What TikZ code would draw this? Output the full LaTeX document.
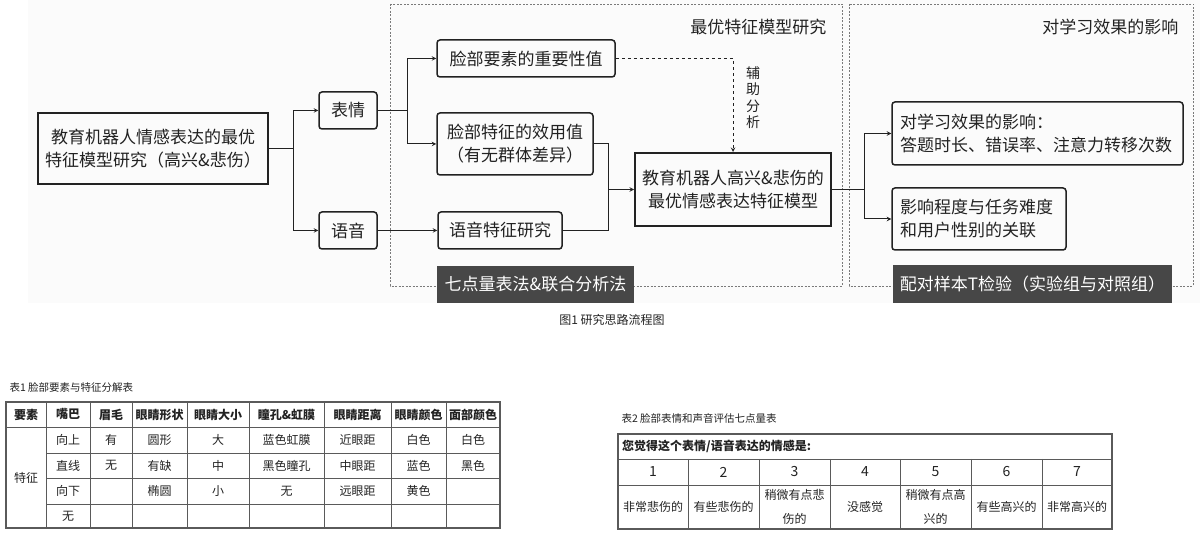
\documentclass[tikz,border=0pt]{standalone}
\usepackage{fontspec}
\setmainfont{Noto Sans CJK SC}
\usepackage{xcolor}
\definecolor{customcolor1}{HTML}{222222}
\definecolor{customcolor2}{HTML}{474747}
\definecolor{customcolor3}{HTML}{7a7a7a}
\definecolor{customcolor4}{HTML}{fbfbfb}
\definecolor{customcolor5}{HTML}{5a5a5a}

\newcommand{\boxfont}{\fontsize{17}{23}\selectfont}
\newcommand{\tabfont}{\fontsize{12}{24}\selectfont}
\newcommand{\capfont}{\fontsize{10.5}{12}\selectfont}

\tikzset{
  roundbox/.style = {draw, rectangle, rounded corners = 3pt, line width = 1.5pt, font = \boxfont, align = center, inner sep = 0pt},
  squarebox/.style = {draw, rectangle, line width = 2pt, font = \boxfont, align = center, inner sep = 0pt},
  darklabel/.style = {fill = customcolor2, text = white, rectangle, font = \boxfont, inner sep = 0pt},
  link/.style = {->, > = stealth, line width = 1pt},
  frame/.style = {draw = customcolor3, line width = 0.7pt, dash pattern = on 2pt off 1.5pt},
  tabline/.style = {draw = customcolor5, line width = 0.8pt},
  tabborder/.style = {draw = customcolor5, line width = 1.4pt},
  cell/.style = {font = \tabfont, inner sep = 0pt, align = center},
}

\begin{document}
\begin{tikzpicture}[x = 1pt, y = -1pt, color = customcolor1]
        \useasboundingbox (0, 0) rectangle (1200, 534);
        \fill [customcolor4] (28, 0) rectangle (1200, 303);

        % Frames
        \draw [frame] (390, 4) rectangle (842, 286);
        \draw [frame] (849, 4) rectangle (1193, 286);
        \node [font = \boxfont, anchor = east] (t1) at (830, 27) {最优特征模型研究};
        \node [font = \boxfont, anchor = east] (t2) at (1182, 27) {对学习效果的影响};

        % Nodes
        \node [squarebox, minimum width = 230pt, minimum height = 71pt] (a) at (153, 148.5) {教育机器人情感表达的最优\\特征模型研究（高兴\&悲伤）};
        \node [roundbox, minimum width = 58pt, minimum height = 37pt] (b) at (348, 110.5) {表情};
        \node [roundbox, minimum width = 58pt, minimum height = 37pt] (c) at (348, 230.5) {语音};
        \node [roundbox, minimum width = 178pt, minimum height = 37pt] (d) at (526, 58.5) {脸部要素的重要性值};
        \node [roundbox, minimum width = 156pt, minimum height = 62pt] (e) at (515, 144) {脸部特征的效用值\\（有无群体差异）};
        \node [roundbox, minimum width = 124pt, minimum height = 37pt] (f) at (500, 230.5) {语音特征研究};
        \node [squarebox, minimum width = 196pt, minimum height = 73pt] (g) at (733, 189.5) {教育机器人高兴\&悲伤的\\最优情感表达特征模型};
        \node [roundbox, minimum height = 63pt, text width = 275pt, inner xsep = 8pt, align = left] (h) at (1037.5, 133.5) {对学习效果的影响：\\答题时长、错误率、注意力转移次数};
        \node [roundbox, minimum height = 62pt, text width = 158pt, inner xsep = 8pt, align = left] (i) at (979, 219) {影响程度与任务难度\\和用户性别的关联};
        \node [darklabel, minimum width = 197pt, minimum height = 37pt] (j) at (535.5, 284.5) {七点量表法\&联合分析法};
        \node [darklabel, minimum width = 279pt, minimum height = 38pt] (k) at (1032.5, 284) {配对样本T检验（实验组与对照组）};
        \node [font = \fontsize{14}{16.5}\selectfont, align = center] (l) at (753, 97.5) {辅\\助\\分\\析};

        % Draw the links
        \draw [link] (a.east) -- ++(24pt, 0) |- (b.west);
        \draw [link] (a.east) -- ++(24pt, 0) |- (c.west);
        \draw [link] (b.east) -- ++(30pt, 0) |- (d.west);
        \draw [link] (b.east) -- ++(30pt, 0) |- (e.west);
        \draw [link] (c.east) -- (f.west);
        \draw [link] (e.east) -- ++(15pt, 0) coordinate (m) |- (g.west);
        \draw [line width = 1pt] (f.east) -| (m);
        \draw [link, dashed] (d.east) -| (g.north);
        \draw [link] (g.east) -- ++(32pt, 0) |- (h.west);
        \draw [link] (g.east) -- ++(32pt, 0) |- (i.west);

        % Caption
        \node [font = \fontsize{12}{14}\selectfont] (cap1) at (612, 320) {图1 研究思路流程图};

        % Table 1
        \node [font = \capfont, anchor = west] (cap2) at (6, 387) {表1 脸部要素与特征分解表};
        \draw [tabline] (6, 427) -- (500, 427);
        \draw [tabline] (46, 453) -- (500, 453);
        \draw [tabline] (46, 478) -- (500, 478);
        \draw [tabline] (46, 504) -- (500, 504);
        \draw [tabline] (46, 402) -- (46, 528);
        \draw [tabline] (90, 402) -- (90, 528);
        \draw [tabline] (132, 402) -- (132, 528);
        \draw [tabline] (187, 402) -- (187, 528);
        \draw [tabline] (249, 402) -- (249, 528);
        \draw [tabline] (324, 402) -- (324, 528);
        \draw [tabline] (391, 402) -- (391, 528);
        \draw [tabline] (446, 402) -- (446, 528);
        \draw [tabborder] (6, 402) rectangle (500, 528);

        \node [cell, font = \tabfont\bfseries] (h1) at (26, 414.5) {要素};
        \node [cell, font = \tabfont\bfseries] (h2) at (68, 414.5) {嘴巴};
        \node [cell, font = \tabfont\bfseries] (h3) at (111, 414.5) {眉毛};
        \node [cell, font = \tabfont\bfseries] (h4) at (159.5, 414.5) {眼睛形状};
        \node [cell, font = \tabfont\bfseries] (h5) at (218, 414.5) {眼睛大小};
        \node [cell, font = \tabfont\bfseries] (h6) at (286.5, 414.5) {瞳孔\&虹膜};
        \node [cell, font = \tabfont\bfseries] (h7) at (357.5, 414.5) {眼睛距离};
        \node [cell, font = \tabfont\bfseries] (h8) at (418.5, 414.5) {眼睛颜色};
        \node [cell, font = \tabfont\bfseries] (h9) at (473, 414.5) {面部颜色};

        \node [cell] (r0) at (26, 477.5) {特征};
        \node [cell] (r1a) at (68, 440) {向上};
        \node [cell] (r1b) at (111, 440) {有};
        \node [cell] (r1c) at (159.5, 440) {圆形};
        \node [cell] (r1d) at (218, 440) {大};
        \node [cell] (r1e) at (286.5, 440) {蓝色虹膜};
        \node [cell] (r1f) at (357.5, 440) {近眼距};
        \node [cell] (r1g) at (418.5, 440) {白色};
        \node [cell] (r1h) at (473, 440) {白色};
        \node [cell] (r2a) at (68, 465.5) {直线};
        \node [cell] (r2b) at (111, 465.5) {无};
        \node [cell] (r2c) at (159.5, 465.5) {有缺};
        \node [cell] (r2d) at (218, 465.5) {中};
        \node [cell] (r2e) at (286.5, 465.5) {黑色瞳孔};
        \node [cell] (r2f) at (357.5, 465.5) {中眼距};
        \node [cell] (r2g) at (418.5, 465.5) {蓝色};
        \node [cell] (r2h) at (473, 465.5) {黑色};
        \node [cell] (r3a) at (68, 491) {向下};
        \node [cell] (r3c) at (159.5, 491) {椭圆};
        \node [cell] (r3d) at (218, 491) {小};
        \node [cell] (r3e) at (286.5, 491) {无};
        \node [cell] (r3f) at (357.5, 491) {远眼距};
        \node [cell] (r3g) at (418.5, 491) {黄色};
        \node [cell] (r4a) at (68, 516) {无};

        % Table 2
        \node [font = \capfont, anchor = west] (cap3) at (618, 418) {表2 脸部表情和声音评估七点量表};
        \draw [tabline] (618, 459) -- (1112, 459);
        \draw [tabline] (618, 485) -- (1112, 485);
        \draw [tabline] (688, 459) -- (688, 529);
        \draw [tabline] (759, 459) -- (759, 529);
        \draw [tabline] (830, 459) -- (830, 529);
        \draw [tabline] (900, 459) -- (900, 529);
        \draw [tabline] (971, 459) -- (971, 529);
        \draw [tabline] (1042, 459) -- (1042, 529);
        \draw [tabborder] (618, 434) rectangle (1112, 529);

        \node [cell, font = \tabfont\bfseries, anchor = west] (q0) at (622, 446.5) {您觉得这个表情/语音表达的情感是:};
        \node [cell, font = \fontsize{14}{16}\selectfont] (n1) at (653, 472) {1};
        \node [cell, font = \fontsize{14}{16}\selectfont] (n2) at (723.5, 472) {2};
        \node [cell, font = \fontsize{14}{16}\selectfont] (n3) at (794.5, 472) {3};
        \node [cell, font = \fontsize{14}{16}\selectfont] (n4) at (865, 472) {4};
        \node [cell, font = \fontsize{14}{16}\selectfont] (n5) at (935.5, 472) {5};
        \node [cell, font = \fontsize{14}{16}\selectfont] (n6) at (1006.5, 472) {6};
        \node [cell, font = \fontsize{14}{16}\selectfont] (n7) at (1077, 472) {7};
        \node [cell] (s1) at (653, 507) {非常悲伤的};
        \node [cell] (s2) at (723.5, 507) {有些悲伤的};
        \node [cell] (s3) at (794.5, 507) {稍微有点悲\\伤的};
        \node [cell] (s4) at (865, 507) {没感觉};
        \node [cell] (s5) at (935.5, 507) {稍微有点高\\兴的};
        \node [cell] (s6) at (1006.5, 507) {有些高兴的};
        \node [cell] (s7) at (1077, 507) {非常高兴的};

    \end{tikzpicture}
\end{document}
